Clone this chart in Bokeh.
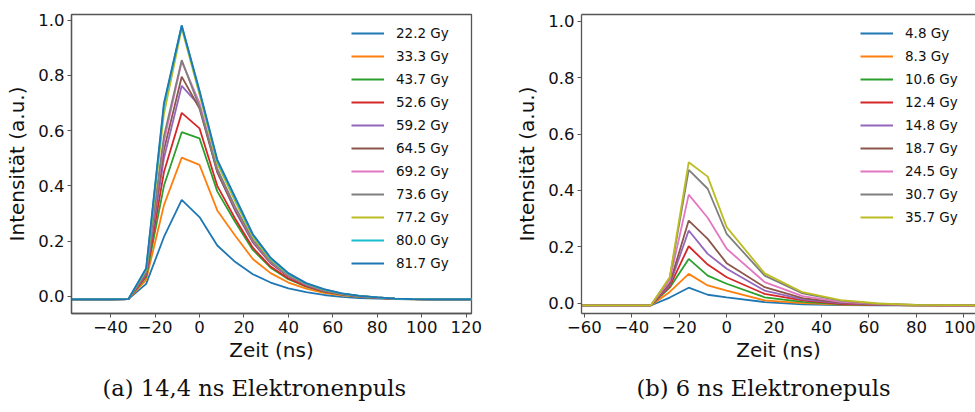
from bokeh.plotting import figure
from bokeh.models import (Range1d, FixedTicker, Legend, LegendItem, Title, LinearAxis)
from bokeh.layouts import row
from bokeh.embed import file_html
from bokeh.resources import INLINE

# ---------------- data: 14,4 ns pulse ----------------
time_a = [-64, -56, -48, -40, -32, -24, -16, -8, 0, 8, 16, 24, 32, 40, 48, 56, 64, 72, 80, 88, 96, 104, 112, 120, 128]
doses_a = ["22.2 Gy", "33.3 Gy", "43.7 Gy", "52.6 Gy", "59.2 Gy", "64.5 Gy",
           "69.2 Gy", "73.6 Gy", "77.2 Gy", "80.0 Gy", "81.7 Gy"]
s_22_2 = [-0.011, -0.011, -0.011, -0.011, -0.010, 0.045, 0.215, 0.349, 0.287, 0.184, 0.125, 0.080, 0.050, 0.029, 0.015, 0.005, -0.002, -0.006, -0.008, -0.010, -0.011, -0.011, -0.011, -0.011, -0.011]
s_33_3 = [-0.011, -0.011, -0.011, -0.011, -0.010, 0.060, 0.330, 0.502, 0.476, 0.311, 0.220, 0.135, 0.084, 0.050, 0.028, 0.013, 0.004, -0.002, -0.006, -0.009, -0.011, -0.011, -0.011, -0.011, -0.011]
s_43_7 = [-0.011, -0.011, -0.011, -0.011, -0.010, 0.070, 0.400, 0.594, 0.572, 0.380, 0.270, 0.168, 0.104, 0.062, 0.035, 0.017, 0.006, -0.001, -0.005, -0.008, -0.010, -0.011, -0.011, -0.011, -0.011]
s_52_6 = [-0.011, -0.011, -0.011, -0.011, -0.010, 0.075, 0.450, 0.664, 0.608, 0.400, 0.282, 0.176, 0.108, 0.065, 0.037, 0.018, 0.007, 0.000, -0.005, -0.008, -0.010, -0.011, -0.011, -0.011, -0.011]
s_59_2 = [-0.011, -0.011, -0.011, -0.011, -0.010, 0.080, 0.500, 0.762, 0.690, 0.450, 0.310, 0.195, 0.120, 0.072, 0.041, 0.020, 0.008, 0.000, -0.005, -0.008, -0.010, -0.011, -0.011, -0.011, -0.011]
s_64_5 = [-0.011, -0.011, -0.011, -0.011, -0.010, 0.085, 0.530, 0.795, 0.680, 0.450, 0.315, 0.198, 0.122, 0.073, 0.042, 0.021, 0.009, 0.001, -0.005, -0.008, -0.010, -0.011, -0.011, -0.011, -0.011]
s_69_2 = [-0.011, -0.011, -0.011, -0.011, -0.010, 0.090, 0.560, 0.850, 0.700, 0.460, 0.322, 0.202, 0.125, 0.075, 0.043, 0.022, 0.009, 0.001, -0.004, -0.008, -0.010, -0.011, -0.011, -0.011, -0.011]
s_73_6 = [-0.011, -0.011, -0.011, -0.011, -0.010, 0.090, 0.580, 0.855, 0.685, 0.460, 0.325, 0.205, 0.127, 0.076, 0.044, 0.022, 0.009, 0.001, -0.004, -0.008, -0.010, -0.011, -0.011, -0.011, -0.011]
s_77_2 = [-0.011, -0.011, -0.011, -0.011, -0.010, 0.095, 0.660, 0.970, 0.730, 0.480, 0.345, 0.215, 0.133, 0.080, 0.046, 0.024, 0.010, 0.002, -0.004, -0.008, -0.010, -0.011, -0.011, -0.011, -0.011]
s_80_0 = [-0.011, -0.011, -0.011, -0.011, -0.010, 0.100, 0.690, 0.980, 0.740, 0.490, 0.355, 0.222, 0.137, 0.082, 0.047, 0.025, 0.011, 0.002, -0.004, -0.008, -0.010, -0.011, -0.011, -0.011, -0.011]
s_81_7 = [-0.011, -0.011, -0.011, -0.011, -0.010, 0.102, 0.700, 0.980, 0.745, 0.495, 0.360, 0.225, 0.140, 0.084, 0.048, 0.026, 0.011, 0.002, -0.004, -0.008, -0.010, -0.011, -0.011, -0.011, -0.011]
series_a = [s_22_2, s_33_3, s_43_7, s_52_6, s_59_2, s_64_5, s_69_2, s_73_6, s_77_2, s_80_0, s_81_7]

# ---------------- data: 6 ns pulse ----------------
time_b = [-72, -64, -56, -48, -40, -32, -24, -16, -8, 0, 16, 32, 48, 64, 80, 96, 112]
doses_b = ["4.8 Gy", "8.3 Gy", "10.6 Gy", "12.4 Gy", "14.8 Gy", "18.7 Gy", "24.5 Gy", "30.7 Gy", "35.7 Gy"]
s_4_8 = [-0.008, -0.008, -0.008, -0.008, -0.008, -0.008, 0.020, 0.055, 0.030, 0.021, 0.004, -0.004, -0.007, -0.008, -0.008, -0.008, -0.008]
s_8_3 = [-0.008, -0.008, -0.008, -0.008, -0.008, -0.008, 0.040, 0.104, 0.063, 0.045, 0.010, 0.000, -0.005, -0.007, -0.008, -0.008, -0.008]
s_10_6 = [-0.008, -0.008, -0.008, -0.008, -0.008, -0.008, 0.055, 0.157, 0.098, 0.069, 0.021, 0.005, -0.003, -0.006, -0.008, -0.008, -0.008]
s_12_4 = [-0.008, -0.008, -0.008, -0.008, -0.008, -0.008, 0.060, 0.202, 0.137, 0.092, 0.033, 0.010, -0.002, -0.006, -0.008, -0.008, -0.008]
s_14_8 = [-0.008, -0.008, -0.008, -0.008, -0.008, -0.008, 0.065, 0.258, 0.175, 0.122, 0.045, 0.014, 0.000, -0.005, -0.007, -0.008, -0.008]
s_18_7 = [-0.008, -0.008, -0.008, -0.008, -0.008, -0.008, 0.070, 0.293, 0.228, 0.142, 0.057, 0.018, 0.002, -0.004, -0.007, -0.008, -0.008]
s_24_5 = [-0.008, -0.008, -0.008, -0.008, -0.008, -0.008, 0.080, 0.385, 0.303, 0.193, 0.075, 0.025, 0.005, -0.003, -0.007, -0.008, -0.008]
s_30_7 = [-0.008, -0.008, -0.008, -0.008, -0.008, -0.008, 0.090, 0.473, 0.406, 0.246, 0.098, 0.035, 0.009, -0.002, -0.006, -0.007, -0.008]
s_35_7 = [-0.008, -0.008, -0.008, -0.008, -0.008, -0.008, 0.092, 0.500, 0.449, 0.270, 0.106, 0.039, 0.011, -0.001, -0.006, -0.007, -0.008]
series_b = [s_4_8, s_8_3, s_10_6, s_12_4, s_14_8, s_18_7, s_24_5, s_30_7, s_35_7]

y_ticks = [0.0, 0.2, 0.4, 0.6, 0.8, 1.0]
x_ticks_a = [-40, -20, 0, 20, 40, 60, 80, 100, 120]
x_ticks_b = [-60, -40, -20, 0, 20, 40, 60, 80, 100]

TAB10 = ["#1f77b4", "#ff7f0e", "#2ca02c", "#d62728", "#9467bd",
         "#8c564b", "#e377c2", "#7f7f7f", "#bcbd22", "#17becf"]

FONT = "DejaVu Sans"
SPINE = "#555555"


def tick_text(v, fmt):
    return fmt.format(v).replace("-", "\u2212")


def style_axes(xa, ya, xticks, yticks):
    for ax in (xa, ya):
        ax.axis_line_color = SPINE
        ax.axis_line_width = 1.3
        ax.major_tick_line_color = SPINE
        ax.major_tick_line_width = 1
        ax.major_tick_in = 0
        ax.major_tick_out = 4
        ax.minor_tick_line_color = None
        ax.major_label_text_font = FONT
        ax.major_label_text_font_size = "16.5px"
        ax.major_label_text_color = "#111111"
        ax.major_label_standoff = 3
        ax.axis_label_text_font = FONT
        ax.axis_label_text_font_size = "20px"
        ax.axis_label_text_font_style = "normal"
        ax.axis_label_text_color = "#111111"
    xa.ticker = FixedTicker(ticks=xticks)
    xa.major_label_overrides = {v: tick_text(v, "{:d}") for v in xticks}
    ya.ticker = FixedTicker(ticks=yticks)
    ya.major_label_overrides = {v: tick_text(v, "{:.1f}") for v in yticks}
    xa.axis_label = "Zeit (ns)"
    ya.axis_label = "Intensit\u00e4t (a.u.)"
    xa.axis_label_standoff = 2
    ya.axis_label_standoff = 6


def make_panel(times, series, names, xr, yr, xticks, width, border_left, border_right, caption, caption_offset,
               legend_x, legend_y, with_right_spine):
    p = figure(width=width, height=412, output_backend="svg", toolbar_location=None,
               x_range=Range1d(*xr), y_range=Range1d(*yr),
               min_border_left=border_left, min_border_right=border_right,
               min_border_top=14, min_border_bottom=99)
    p.grid.visible = False
    p.background_fill_color = "white"
    p.border_fill_color = "white"
    p.outline_line_color = SPINE if with_right_spine else None
    p.outline_line_width = 1.3
    style_axes(p.below[0], p.left[0], xticks, y_ticks)
    if not with_right_spine:
        # top spine only, the frame runs off the right edge
        top = LinearAxis(axis_line_color=SPINE, axis_line_width=1.3,
                         major_tick_line_color=None, minor_tick_line_color=None,
                         major_label_text_font_size="0px", major_label_standoff=0,
                         ticker=FixedTicker(ticks=[]))
        p.add_layout(top, "above")

    items = []
    for i, (vals, name) in enumerate(zip(series, names)):
        r = p.line(times, vals, line_color=TAB10[i % 10], line_width=1.8)
        items.append(LegendItem(label=name, renderers=[r]))

    leg = Legend(items=items, location=(legend_x, legend_y), border_line_color=None,
                 background_fill_alpha=0, padding=0, margin=0, spacing=3,
                 glyph_width=33, glyph_height=20, label_height=20, label_standoff=12,
                 label_text_font=FONT, label_text_font_size="13.5px", label_text_color="#111111")
    p.add_layout(leg, "center")

    cap = Title(text=caption, align="left", offset=caption_offset,
                text_font="DejaVu Serif", text_font_size="22.6px", text_font_style="normal",
                text_color="#111111", standoff=17)
    p.add_layout(cap, "below")
    return p


p1 = make_panel(time_a, series_a, doses_a, (-57.6, 122.4), (-0.062, 1.020), x_ticks_a,
                490, 71, 19, "(a) 14,4 ns Elektronenpuls", 31, 280, 40, True)
p2 = make_panel(time_b, series_b, doses_b, (-61.2, 104.9), (-0.0365, 1.024), x_ticks_b,
                485, 91, 0, "(b) 6 ns Elektronepuls", 55, 279, 86, False)

layout = row(p1, p2)
open("out.html", "w").write(file_html(layout, INLINE))
